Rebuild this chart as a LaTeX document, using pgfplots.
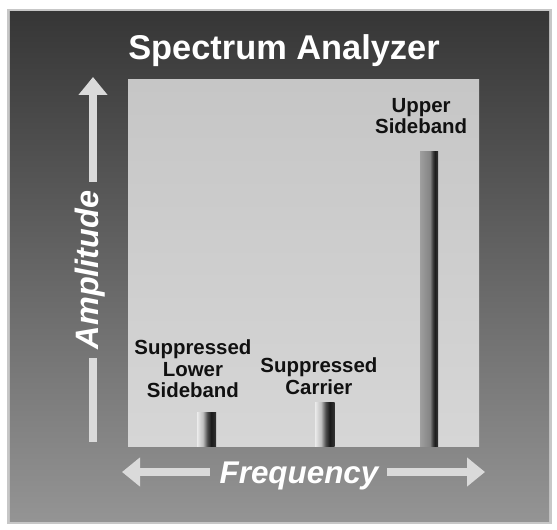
\documentclass[border=0pt]{standalone}
\usepackage{fontspec}
\setmainfont{Liberation Sans}
\usepackage{pgfplots}
\pgfplotsset{compat=1.18}
\usetikzlibrary{arrows.meta}
\definecolor{framedark}{HTML}{363636}
\definecolor{framelight}{HTML}{949494}
\definecolor{paneltop}{HTML}{C6C6C6}
\definecolor{panelbot}{HTML}{D6D6D6}
\definecolor{arrowgray}{HTML}{DADADA}
\definecolor{labelblack}{HTML}{111111}
\pgfdeclarehorizontalshading{smallbar}{100bp}{color(0bp)=(white!92!black); color(25bp)=(white!92!black); color(40bp)=(white!75!black); color(52bp)=(black!70); color(62bp)=(black!90); color(75bp)=(black!80); color(100bp)=(black!80)}
\pgfdeclarehorizontalshading{bigbar}{100bp}{color(0bp)=(white!60!black); color(25bp)=(white!62!black); color(52bp)=(white!52!black); color(60bp)=(black!75); color(66bp)=(black!88); color(75bp)=(black!80); color(100bp)=(black!80)}
\begin{document}
\begin{tikzpicture}[x=1bp,y=1bp]
\useasboundingbox (-128,-83) rectangle (429,447);
\fill[white] (-128,-83) rectangle (429,447);
\fill[white!78!black] (-121,-77) rectangle (424,438);
\shade[top color=framedark, bottom color=framelight] (-118,-74) rectangle (421,435);
\begin{axis}[
  at={(0,0)}, anchor=south west,
  scale only axis, width=351bp, height=367bp,
  xmin=0, xmax=10, ymin=0, ymax=1,
  axis line style={draw=none}, ticks=none,
  axis background/.style={top color=paneltop, bottom color=panelbot},
  clip=false,
]
% Suppressed lower sideband
\addplot[ybar, bar shift=0pt, bar width=0.54, draw=none, shade, shading=smallbar]
  coordinates {(2.24,0.093)};
% Suppressed carrier
\addplot[ybar, bar shift=0pt, bar width=0.56, draw=none, shade, shading=smallbar]
  coordinates {(5.61,0.12)};
% Upper sideband
\addplot[ybar, bar shift=0pt, bar width=0.51, draw=none, shade, shading=bigbar]
  coordinates {(8.58,0.804)};
\node[anchor=north, inner sep=0pt, align=center, text=labelblack,
  font=\fontsize{20.5}{21.5}\selectfont\bfseries] at (axis cs:1.85,0.2916)
  {Suppressed\\Lower\\Sideband};
\node[anchor=north, inner sep=0pt, align=center, text=labelblack,
  font=\fontsize{20.5}{21.5}\selectfont\bfseries] at (axis cs:5.44,0.2425)
  {Suppressed\\Carrier};
\node[anchor=north, inner sep=0pt, align=center, text=labelblack,
  font=\fontsize{20.5}{21.5}\selectfont\bfseries] at (axis cs:8.35,0.951)
  {Upper\\Sideband};
\end{axis}
\node[anchor=base, white, inner sep=0pt, font=\fontsize{34.5}{36}\selectfont\bfseries] at (156,387) {Spectrum Analyzer};
% amplitude arrow
\draw[arrowgray, line width=8bp] (-35,5) -- (-35,89);
\draw[arrowgray, line width=8bp, -{Triangle[width=28bp,length=18bp]}] (-35,265) -- (-35,370);
\node[rotate=90, white, inner sep=0pt, font=\fontsize{32.5}{33}\selectfont\bfseries\itshape] at (-37.5,177) {Amplitude};
% frequency arrow
\draw[arrowgray, line width=7.5bp, -{Triangle[width=28bp,length=18bp]}] (82,-25) -- (-6,-25);
\draw[arrowgray, line width=7.5bp, -{Triangle[width=28bp,length=18bp]}] (259,-25) -- (357,-25);
\node[white, inner sep=0pt, font=\fontsize{31.5}{32}\selectfont\bfseries\itshape] at (171,-29) {Frequency};
\end{tikzpicture}
\end{document}
